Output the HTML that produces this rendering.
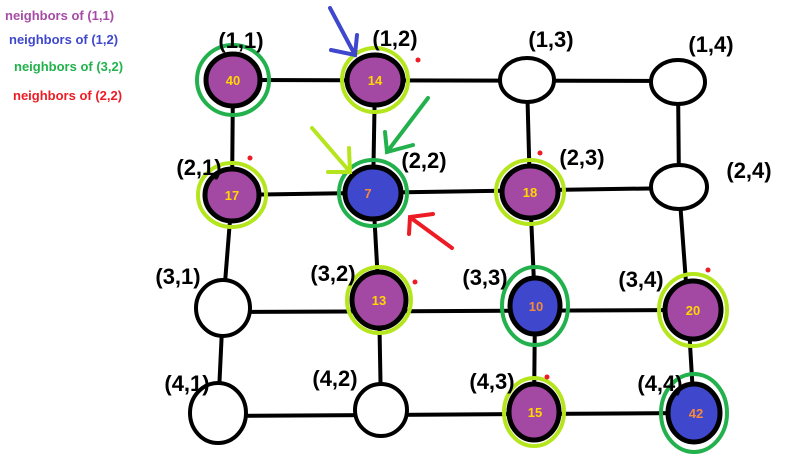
<!DOCTYPE html>
<html><head><style>body{margin:0;background:#fff}svg{display:block}</style></head><body>
<svg width="794" height="466" xmlns="http://www.w3.org/2000/svg" font-family="Liberation Sans, sans-serif">
<g font-size="13" font-weight="bold">
<text x="5" y="20" fill="#a64ca6">neighbors of (1,1)</text>
<text x="9" y="44" fill="#3f48cc">neighbors of (1,2)</text>
<text x="14" y="71" fill="#22b14c">neighbors of (3,2)</text>
<text x="13" y="100" fill="#ed1c24">neighbors of (2,2)</text>
</g>
<g stroke="#000" stroke-width="4" fill="none">
<line x1="233" y1="80" x2="678" y2="81"/>
<line x1="232" y1="195" x2="679" y2="188"/>
<line x1="223" y1="312" x2="688" y2="310"/>
<line x1="218" y1="416" x2="694" y2="413"/>
<polyline points="233,80 232,195 223,308 218,413"/>
<polyline points="375,80 373,193 379,300 381,410"/>
<polyline points="527,80 530,192 535,306 534,412"/>
<polyline points="678,82 679,187 688,310 694,412"/>
</g>
<g stroke="#000" stroke-width="4" fill="#fff">
<ellipse cx="527" cy="80" rx="27" ry="22"/>
<ellipse cx="678" cy="82" rx="27" ry="22"/>
<ellipse cx="679" cy="187" rx="28" ry="22"/>
<ellipse cx="223" cy="308" rx="27" ry="28"/>
<ellipse cx="218" cy="413" rx="28" ry="30"/>
<ellipse cx="381" cy="410" rx="26" ry="26"/>
</g>
<g stroke="#000" stroke-width="5">
<ellipse cx="233" cy="80" rx="27" ry="26" fill="#a349a4"/>
<ellipse cx="375" cy="80" rx="28" ry="25" fill="#a349a4"/>
<ellipse cx="232" cy="195" rx="27" ry="26" fill="#a349a4"/>
<ellipse cx="373" cy="193" rx="28" ry="26" fill="#3f48cc"/>
<ellipse cx="530" cy="192" rx="28" ry="26" fill="#a349a4"/>
<ellipse cx="379" cy="300" rx="27" ry="28" fill="#a349a4"/>
<ellipse cx="535" cy="306" rx="25" ry="28" fill="#3f48cc"/>
<ellipse cx="693" cy="310" rx="28" ry="29" fill="#a349a4"/>
<ellipse cx="534" cy="412" rx="25" ry="28" fill="#a349a4"/>
<ellipse cx="694" cy="413" rx="26" ry="29" fill="#3f48cc"/>
</g>
<g fill="none" stroke-width="4">
<ellipse cx="233" cy="80" rx="36" ry="35" stroke="#22b14c"/>
<ellipse cx="375" cy="80" rx="33" ry="32" stroke="#b5e61d"/>
<ellipse cx="232" cy="195" rx="34" ry="32" stroke="#b5e61d"/>
<ellipse cx="373" cy="193" rx="34" ry="33" stroke="#22b14c"/>
<ellipse cx="530" cy="192" rx="34" ry="32" stroke="#b5e61d"/>
<ellipse cx="379" cy="300" rx="32" ry="33" stroke="#b5e61d"/>
<ellipse cx="535" cy="306" rx="33" ry="39" stroke="#22b14c"/>
<ellipse cx="693" cy="310" rx="34" ry="36" stroke="#b5e61d"/>
<ellipse cx="534" cy="412" rx="30" ry="34" stroke="#b5e61d"/>
<ellipse cx="694" cy="413" rx="33" ry="39" stroke="#22b14c"/>
</g>
<g font-size="13" font-weight="bold" text-anchor="middle">
<text x="233" y="85" fill="#ffd800">40</text>
<text x="375" y="85" fill="#ffd800">14</text>
<text x="232" y="200" fill="#ffd800">17</text>
<text x="368" y="198" fill="#f7893b">7</text>
<text x="530" y="197" fill="#ffd800">18</text>
<text x="379" y="305" fill="#ffd800">13</text>
<text x="536" y="311" fill="#f7893b">10</text>
<text x="693" y="315" fill="#ffd800">20</text>
<text x="535" y="417" fill="#ffd800">15</text>
<text x="696" y="418" fill="#f7893b">42</text>
</g>
<g font-size="22" font-weight="bold" fill="#000" text-anchor="middle">
<text x="241" y="48">(1,1)</text>
<text x="395" y="46">(1,2)</text>
<text x="551" y="47">(1,3)</text>
<text x="711" y="52">(1,4)</text>
<text x="199" y="175">(2,1)</text>
<text x="424" y="168">(2,2)</text>
<text x="582" y="165">(2,3)</text>
<text x="749" y="178">(2,4)</text>
<text x="178" y="284">(3,1)</text>
<text x="333" y="281">(3,2)</text>
<text x="485" y="285">(3,3)</text>
<text x="641" y="287">(3,4)</text>
<text x="187" y="391">(4,1)</text>
<text x="335" y="386">(4,2)</text>
<text x="492" y="389">(4,3)</text>
<text x="660" y="391">(4,4)</text>
</g>
<g fill="#ed1c24">
<circle cx="418" cy="60" r="2.5"/><circle cx="250" cy="158" r="2.5"/>
<circle cx="540" cy="153" r="2.5"/><circle cx="415" cy="282" r="2.5"/>
<circle cx="708" cy="270" r="2.5"/><circle cx="547" cy="377" r="2.5"/>
</g>
<g fill="none" stroke-width="4" stroke-linecap="round">
<path d="M330 8 L355 55 M331 50 L355 55 L357 35" stroke="#3f48cc"/>
<path d="M428 98 L387 152 M385 132 L387 152 L413 145" stroke="#22b14c"/>
<path d="M312 128 L350 172 M328 172 L350 172 L349 148" stroke="#b5e61d"/>
<path d="M452 248 L411 218 M409 234 L410 217 L433 214" stroke="#ed1c24"/>
</g>
</svg>
</body></html>
